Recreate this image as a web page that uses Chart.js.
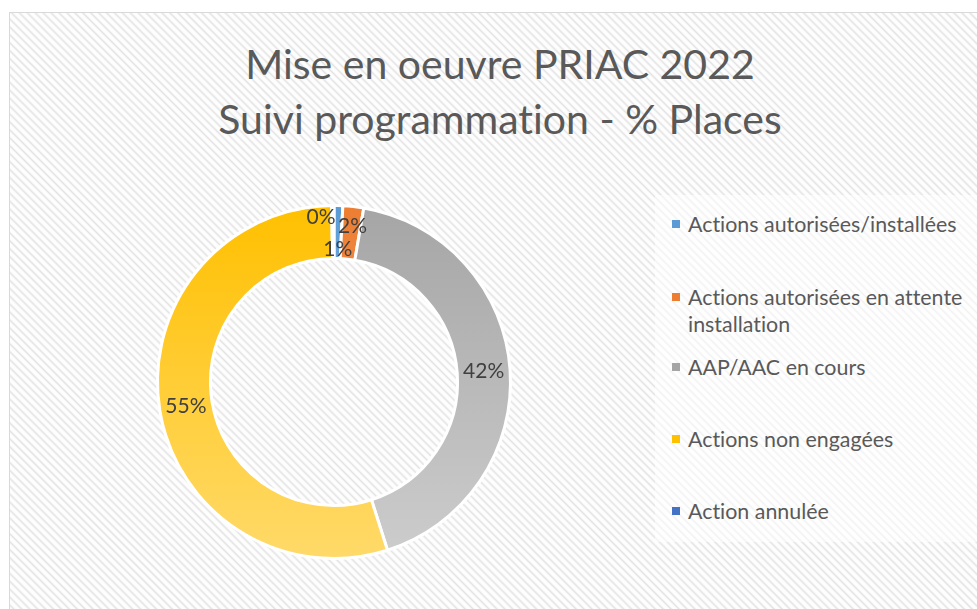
<!DOCTYPE html>
<html lang="fr">
<head>
<meta charset="utf-8">
<script src="https://cdn.jsdelivr.net/npm/chart.js@4.4.1/dist/chart.umd.min.js"></script>
<style>
  html, body { margin: 0; padding: 0; width: 977px; height: 609px; overflow: hidden; background: #fff; }
  body { position: relative; font-family: Lato, "Open Sans", sans-serif; color: #595959; font-variant-ligatures: none; }
  .frame {
    position: absolute; left: 9px; top: 12px; width: 1000px; height: 620px;
    border: 1px solid #d9d9d9;
    background: repeating-linear-gradient(45deg, #ffffff 0px, #fbfbfb 1.4px, #e3e3e3 2.8px, #fbfbfb 4.2px, #ffffff 5.6px);
  }
  .title {
    position: absolute; left: 0; top: 36px; width: 1000px; text-align: center;
    font-size: 41px; line-height: 55px; color: #595959;
  }
  .legendBox {
    position: absolute; left: 655px; top: 195px; width: 330px; height: 347px;
    background: rgba(255, 255, 255, 0.55);
  }
  .legend { position: absolute; left: 672px; top: 0; width: 300px; }
  .legend .item { position: absolute; left: 0; width: 300px; font-size: 21.4px; line-height: 27px; }
  .legend .box { position: absolute; left: 0; top: 9px; width: 8px; height: 8px; }
  .legend .txt { margin-left: 16px; }
  #chartWrap { position: absolute; left: 0; top: 0; width: 977px; height: 609px; }
</style>
</head>
<body>
<div class="frame"></div>
<div class="title">Mise en oeuvre PRIAC 2022<br>Suivi programmation - % Places</div>
<div class="legendBox"></div>
<div class="legend" id="legend"></div>
<div id="chartWrap"><canvas id="donut" width="977" height="609"></canvas></div>

<script>
// categories
const categories = [
  'Actions autorisées/installées',
  'Actions autorisées en attente installation',
  'AAP/AAC en cours',
  'Actions non engagées',
  'Action annulée'
];
// share of places (%)
const values = [0.8, 1.9, 42.4, 54.7, 0.2];

// colours: top of the gradient / bottom of the gradient
const topColors = ['#5b9bd5', '#ed7d31', '#a5a5a5', '#ffc000', '#4472c4'];
const bottomColors = ['#9dc3e6', '#f4b183', '#cdcdcd', '#ffda6a', '#8faadc'];

// label nudges for the thin slices (px), so the small labels don't overlap
const labelNudge = [[0, 17], [2, -7], [0, 0], [0, 0], [-12, -15]];
// legend rows (top of each row, px)
const legendTops = [211, 284, 354, 426, 498];

// Build legend
const legendEl = document.getElementById('legend');
categories.forEach((name, i) => {
  const item = document.createElement('div');
  item.className = 'item';
  item.style.top = legendTops[i] + 'px';
  item.innerHTML = '<span class="box" style="background:' + topColors[i] + '"></span><div class="txt">' + name + '</div>';
  legendEl.appendChild(item);
});

// vertical gradient per slice
function sliceGradient(context) {
  const i = context.dataIndex;
  const chart = context.chart;
  const area = chart.chartArea;
  if (!area || i === undefined) return topColors[i || 0];
  const g = chart.ctx.createLinearGradient(0, area.top, 0, area.bottom);
  g.addColorStop(0, topColors[i]);
  g.addColorStop(1, bottomColors[i]);
  return g;
}

// draw the % labels on each slice
const pctLabels = {
  id: 'pctLabels',
  afterDatasetsDraw(chart) {
    const ctx = chart.ctx;
    const meta = chart.getDatasetMeta(0);
    const total = values.reduce((a, b) => a + b, 0);
    ctx.save();
    ctx.font = '21px Lato, "Open Sans", sans-serif';
    ctx.fillStyle = '#404040';
    ctx.textAlign = 'center';
    ctx.textBaseline = 'middle';
    meta.data.forEach((arc, i) => {
      const p = arc.getProps(['x', 'y', 'startAngle', 'endAngle', 'innerRadius', 'outerRadius'], true);
      const a = (p.startAngle + p.endAngle) / 2;
      const r = (p.innerRadius + p.outerRadius) / 2;
      const x = p.x + Math.cos(a) * r + labelNudge[i][0];
      const y = p.y + Math.sin(a) * r + labelNudge[i][1];
      ctx.fillText(Math.round(values[i] / total * 100) + '%', x, y);
    });
    ctx.restore();
  }
};

const ctx = document.getElementById('donut').getContext('2d');
new Chart(ctx, {
  type: 'doughnut',
  data: {
    labels: categories,
    datasets: [{
      data: values,
      backgroundColor: sliceGradient,
      borderColor: '#ffffff',
      borderWidth: 3
    }]
  },
  options: {
    responsive: false,
    animation: false,
    cutout: '70%',
    layout: { padding: { left: 156, top: 204, right: 465, bottom: 49 } },
    plugins: {
      legend: { display: false },
      tooltip: { enabled: false },
      title: { display: false }
    }
  },
  plugins: [pctLabels]
});
</script>
</body>
</html>
